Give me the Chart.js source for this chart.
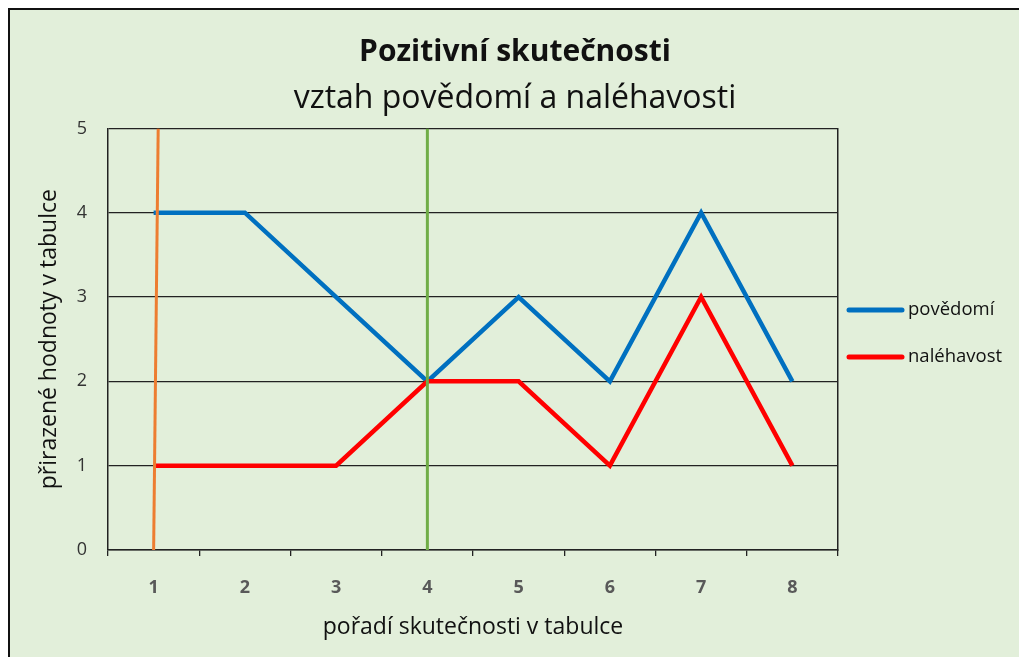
<!DOCTYPE html>
<html>
<head>
<meta charset="utf-8">
<script src="https://cdn.jsdelivr.net/npm/chart.js@4/dist/chart.umd.min.js"></script>
<style>
  html, body { margin: 0; padding: 0; background: #ffffff; }
  #wrap { position: relative; width: 1019px; height: 657px; }
  canvas { display: block; }
</style>
</head>
<body>
<div id="wrap"><canvas id="c" width="1019" height="657"></canvas></div>
<script>
// ---- data ----
const categories = ['1', '2', '3', '4', '5', '6', '7', '8'];
const povedomi = [4, 4, 3, 2, 3, 2, 4, 2];
const nalehavost = [1, 1, 1, 2, 2, 1, 3, 1];
const yTicks = [0, 1, 2, 3, 4, 5];
const orangeMarker = [{x: 1, y: 0}, {x: 1.05, y: 5}];
const greenMarker = [{x: 4, y: 0}, {x: 4, y: 5}];

const FONT = "'Open Sans', sans-serif";
const BG = '#E2EFDA';

const framePlugin = {
  id: 'frame',
  beforeDraw(chart) {
    const ctx = chart.ctx;
    ctx.save();
    ctx.fillStyle = '#ffffff';
    ctx.fillRect(0, 0, chart.width, chart.height);
    ctx.fillStyle = BG;
    ctx.fillRect(9, 9, chart.width - 9, chart.height - 9);
    ctx.strokeStyle = '#111111';
    ctx.lineWidth = 2;
    ctx.beginPath();
    ctx.moveTo(9, chart.height);
    ctx.lineTo(9, 9);
    ctx.lineTo(chart.width, 9);
    ctx.stroke();
    ctx.restore();
  }
};

const sideLegend = {
  id: 'sideLegend',
  afterDraw(chart) {
    const ctx = chart.ctx;
    const area = chart.chartArea;
    const items = chart.data.datasets.filter(d => d.inLegend);
    ctx.save();
    ctx.font = '18.5px ' + FONT;
    ctx.textBaseline = 'middle';
    ctx.textAlign = 'left';
    items.forEach((d, i) => {
      const y = 310 + i * 47;
      const x0 = area.right + 11;
      ctx.strokeStyle = d.borderColor;
      ctx.lineWidth = 5;
      ctx.lineCap = 'round';
      ctx.beginPath();
      ctx.moveTo(x0, y);
      ctx.lineTo(x0 + 53, y);
      ctx.stroke();
      ctx.fillStyle = '#111111';
      ctx.fillText(d.label, x0 + 59, y);
    });
    ctx.restore();
  }
};

new Chart(document.getElementById('c'), {
  type: 'line',
  data: {
    labels: categories,
    datasets: [
      { label: 'orange', data: orangeMarker, xAxisID: 'x2', borderColor: '#ED7D31', borderWidth: 3, pointRadius: 0, order: 0, inLegend: false },
      { label: 'green', data: greenMarker, xAxisID: 'x2', borderColor: '#70AD47', borderWidth: 3, pointRadius: 0, order: 0, inLegend: false },
      { label: 'povědomí', data: povedomi, xAxisID: 'x', borderColor: '#0070C0', backgroundColor: '#0070C0', borderWidth: 4.5, pointRadius: 0, tension: 0, order: 2, inLegend: true },
      { label: 'naléhavost', data: nalehavost, xAxisID: 'x', borderColor: '#FF0000', backgroundColor: '#FF0000', borderWidth: 4.5, pointRadius: 0, tension: 0, order: 1, inLegend: true }
    ]
  },
  options: {
    responsive: false,
    animation: false,
    devicePixelRatio: 1,
    layout: { padding: { top: 20, left: 11, right: 0, bottom: 7 } },
    plugins: {
      legend: { display: false },
      tooltip: { enabled: false },
      title: {
        display: true,
        text: 'Pozitivní skutečnosti',
        color: '#111111',
        font: { family: FONT, size: 30, weight: 'bold', lineHeight: 1.2 },
        padding: { top: 14, bottom: 0 }
      },
      subtitle: {
        display: true,
        text: 'vztah povědomí a naléhavosti',
        color: '#111111',
        font: { family: FONT, size: 32, weight: 'normal', lineHeight: 1.2 },
        padding: { top: 10, bottom: 10 }
      }
    },
    scales: {
      x: {
        type: 'category',
        offset: true,
        grid: { display: true, drawOnChartArea: false, drawTicks: true, tickLength: 6, color: '#222222', lineWidth: 1.3, offset: true },
        border: { display: true, color: '#222222', width: 1.5 },
        ticks: { color: '#595959', font: { family: FONT, size: 18, weight: 'bold' }, padding: 21, maxRotation: 0 },
        title: { display: true, text: 'pořadí skutečnosti v tabulce', color: '#111111', font: { family: FONT, size: 23, lineHeight: 1.2 }, padding: { top: 0, bottom: 9 } },
        afterFit(s) { s.height = 100; }
      },
      x2: {
        type: 'linear',
        display: false,
        min: 0.5,
        max: 8.5
      },
      y: {
        type: 'linear',
        min: 0,
        max: 5,
        afterBuildTicks(s) { s.ticks = yTicks.map(v => ({ value: v })); },
        grid: { color: '#222222', lineWidth: 1.3, drawTicks: false },
        border: { display: true, color: '#222222', width: 1.5 },
        ticks: { color: '#333333', font: { family: FONT, size: 18 }, padding: 21 },
        title: { display: true, text: 'přirazené hodnoty v tabulce', color: '#111111', font: { family: FONT, size: 23, lineHeight: 1.2 }, padding: { top: 25, bottom: 0 } },
        afterFit(s) { s.width = 97; }
      },
      yR: {
        type: 'linear',
        position: 'right',
        min: 0,
        max: 5,
        grid: { display: false },
        ticks: { display: false },
        border: { display: true, color: '#222222', width: 1.5 },
        afterFit(s) { s.width = 181; }
      }
    }
  },
  plugins: [framePlugin, sideLegend]
});
</script>
</body>
</html>
